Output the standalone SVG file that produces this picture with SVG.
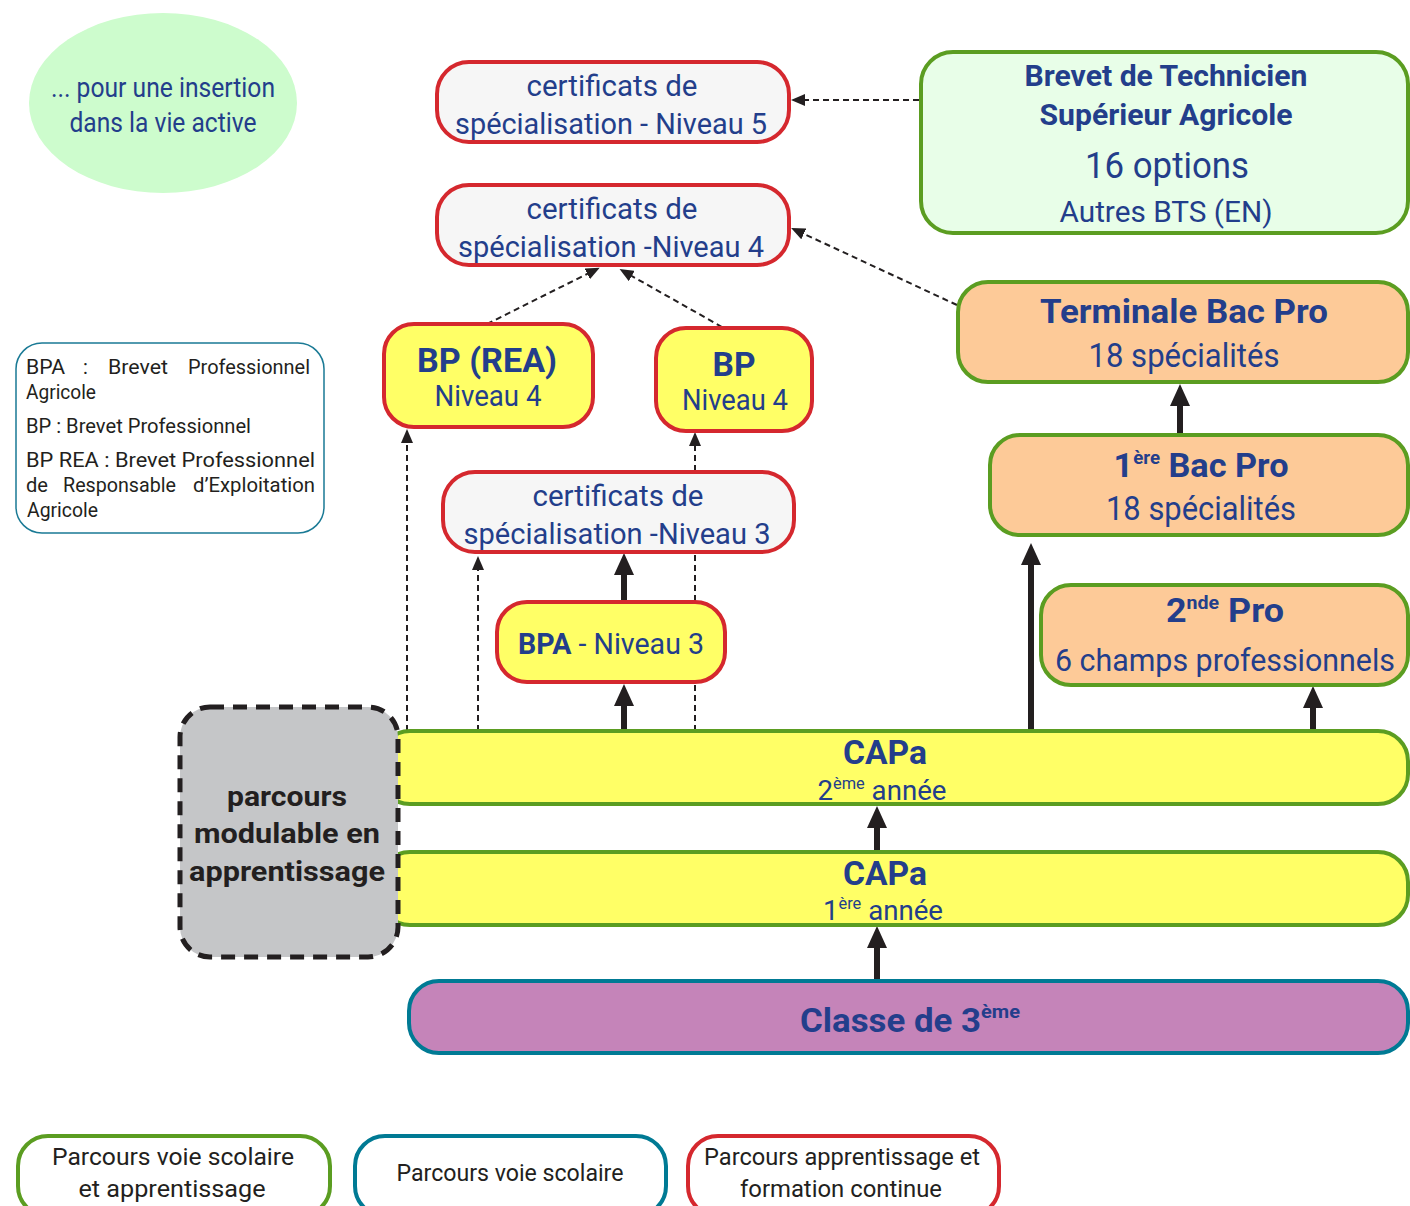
<svg xmlns="http://www.w3.org/2000/svg" width="1410" height="1206" viewBox="0 0 1410 1206">
<defs>
<style>
.t{font-family:Roboto,"Noto Sans",sans-serif;fill:#233e8b;text-anchor:middle}
.b{font-weight:bold}
.k{font-family:Roboto,"Noto Sans",sans-serif;fill:#231f20}
.red{stroke:#d5282e;stroke-width:4}
.grn{stroke:#5b9d21;stroke-width:4}
.teal{stroke:#007a94;stroke-width:4}
.thick{stroke:#231f20;stroke-width:6;fill:none}
.dash{stroke:#231f20;stroke-width:2;stroke-dasharray:6 4;fill:none}
</style>
<marker id="ah" viewBox="0 0 22 20" refX="4" refY="10" markerWidth="22" markerHeight="20" orient="auto" markerUnits="userSpaceOnUse"><path d="M0,0 L22,10 L0,20 Z" fill="#231f20"/></marker>
<marker id="ad" viewBox="0 0 14 12" refX="2" refY="6" markerWidth="14" markerHeight="12" orient="auto" markerUnits="userSpaceOnUse"><path d="M0,0 L14,6 L0,12 Z" fill="#231f20"/></marker>
</defs>
<rect width="1410" height="1206" fill="#ffffff"/>

<g id="connectors">
<line class="dash" x1="919" y1="100" x2="803" y2="100" marker-end="url(#ad)"/>
<line class="dash" x1="957" y1="305" x2="802" y2="233" marker-end="url(#ad)"/>
<line class="dash" x1="487" y1="324" x2="589" y2="273" marker-end="url(#ad)"/>
<line class="dash" x1="722" y1="327" x2="630" y2="275" marker-end="url(#ad)"/>
<line class="dash" x1="407" y1="731" x2="407" y2="441" marker-end="url(#ad)"/>
<line class="dash" x1="478" y1="731" x2="478" y2="568" marker-end="url(#ad)"/>
<line class="dash" x1="695" y1="731" x2="695" y2="444" marker-end="url(#ad)"/>
<line class="thick" x1="877" y1="981" x2="877" y2="944" marker-end="url(#ah)"/>
<line class="thick" x1="877" y1="852" x2="877" y2="824" marker-end="url(#ah)"/>
<line class="thick" x1="1313" y1="731" x2="1313" y2="704" marker-end="url(#ah)"/>
<line class="thick" x1="1031" y1="731" x2="1031" y2="561" marker-end="url(#ah)"/>
<line class="thick" x1="624" y1="731" x2="624" y2="702" marker-end="url(#ah)"/>
<line class="thick" x1="624" y1="602" x2="624" y2="571" marker-end="url(#ah)"/>
<line class="thick" x1="1180" y1="435" x2="1180" y2="402" marker-end="url(#ah)"/>
</g>

<g id="insertion">
<ellipse cx="163" cy="103" rx="134" ry="90" fill="#cdfccd"/>
<text class="t" x="163" y="97" font-size="27" textLength="224" lengthAdjust="spacingAndGlyphs">... pour une insertion</text>
<text class="t" x="163" y="132" font-size="27" textLength="187" lengthAdjust="spacingAndGlyphs">dans la vie active</text>
</g>

<g id="cert5">
<rect class="red" x="437" y="62" width="352" height="80" rx="32" fill="#f6f6f6"/>
<text class="t" x="612" y="96" font-size="29" textLength="171" lengthAdjust="spacingAndGlyphs">certificats de</text>
<text class="t" x="611" y="134" font-size="29" textLength="312" lengthAdjust="spacingAndGlyphs">spécialisation - Niveau 5</text>
</g>

<g id="cert4">
<rect class="red" x="437" y="185" width="352" height="80" rx="32" fill="#f6f6f6"/>
<text class="t" x="612" y="219" font-size="29" textLength="171" lengthAdjust="spacingAndGlyphs">certificats de</text>
<text class="t" x="611" y="257" font-size="29" textLength="306" lengthAdjust="spacingAndGlyphs">spécialisation -Niveau 4</text>
</g>

<g id="btsa">
<rect class="grn" x="921" y="52" width="487" height="181" rx="32" fill="#e8fee8"/>
<text class="t b" x="1166" y="86" font-size="29" textLength="283" lengthAdjust="spacingAndGlyphs">Brevet de Technicien</text>
<text class="t b" x="1166" y="125" font-size="29" textLength="253" lengthAdjust="spacingAndGlyphs">Supérieur Agricole</text>
<text class="t" x="1167" y="178" font-size="36" textLength="164" lengthAdjust="spacingAndGlyphs">16 options</text>
<text class="t" x="1166" y="222" font-size="29" textLength="213" lengthAdjust="spacingAndGlyphs">Autres BTS (EN)</text>
</g>

<g id="terminale">
<rect class="grn" x="958" y="282" width="450" height="100" rx="30" fill="#fdca98"/>
<text class="t b" x="1184" y="323" font-size="33" textLength="288" lengthAdjust="spacingAndGlyphs">Terminale Bac Pro</text>
<text class="t" x="1184" y="367" font-size="34" textLength="191" lengthAdjust="spacingAndGlyphs">18 spécialités</text>
</g>

<g id="premiere">
<rect class="grn" x="990" y="435" width="418" height="100" rx="30" fill="#fdca98"/>
<text class="t b" x="1201" y="477" font-size="33" textLength="175" lengthAdjust="spacingAndGlyphs">1<tspan font-size="18" dy="-13">ère</tspan><tspan dy="13"> Bac Pro</tspan></text>
<text class="t" x="1201" y="520" font-size="34" textLength="190" lengthAdjust="spacingAndGlyphs">18 spécialités</text>
</g>

<g id="seconde">
<rect class="grn" x="1041" y="585" width="367" height="100" rx="30" fill="#fdca98"/>
<text class="t b" x="1225" y="622" font-size="33" textLength="118" lengthAdjust="spacingAndGlyphs">2<tspan font-size="18" dy="-13">nde</tspan><tspan dy="13"> Pro</tspan></text>
<text class="t" x="1225" y="671" font-size="31" textLength="340" lengthAdjust="spacingAndGlyphs">6 champs professionnels</text>
</g>

<g id="bprea">
<rect class="red" x="384" y="324" width="209" height="103" rx="30" fill="#ffff66"/>
<text class="t b" x="487" y="372" font-size="33" textLength="140" lengthAdjust="spacingAndGlyphs">BP (REA)</text>
<text class="t" x="488" y="406" font-size="29" textLength="107" lengthAdjust="spacingAndGlyphs">Niveau 4</text>
</g>

<g id="bp">
<rect class="red" x="656" y="328" width="156" height="103" rx="30" fill="#ffff66"/>
<text class="t b" x="734" y="376" font-size="33" textLength="43" lengthAdjust="spacingAndGlyphs">BP</text>
<text class="t" x="735" y="410" font-size="29" textLength="106" lengthAdjust="spacingAndGlyphs">Niveau 4</text>
</g>

<g id="cert3">
<rect class="red" x="443" y="472" width="351" height="80" rx="32" fill="#f6f6f6"/>
<text class="t" x="618" y="506" font-size="29" textLength="171" lengthAdjust="spacingAndGlyphs">certificats de</text>
<text class="t" x="617" y="544" font-size="29" textLength="307" lengthAdjust="spacingAndGlyphs">spécialisation -Niveau 3</text>
</g>

<g id="bpa">
<rect class="red" x="497" y="602" width="228" height="80" rx="30" fill="#ffff66"/>
<text class="t" x="611" y="654" font-size="29" textLength="186" lengthAdjust="spacingAndGlyphs"><tspan class="b">BPA</tspan> - Niveau 3</text>
</g>

<g id="capa2">
<rect class="grn" x="380" y="731" width="1028" height="73" rx="30" fill="#ffff66"/>
<text class="t b" x="885" y="764" font-size="33" textLength="84" lengthAdjust="spacingAndGlyphs">CAPa</text>
<text class="t" x="882" y="800" font-size="27" textLength="129" lengthAdjust="spacingAndGlyphs">2<tspan font-size="16" dy="-11">ème</tspan><tspan dy="11"> année</tspan></text>
</g>

<g id="capa1">
<rect class="grn" x="380" y="852" width="1028" height="73" rx="30" fill="#ffff66"/>
<text class="t b" x="885" y="885" font-size="33" textLength="84" lengthAdjust="spacingAndGlyphs">CAPa</text>
<text class="t" x="883" y="920" font-size="27" textLength="120" lengthAdjust="spacingAndGlyphs">1<tspan font-size="16" dy="-11">ère</tspan><tspan dy="11"> année</tspan></text>
</g>

<g id="classe3">
<rect class="teal" x="409" y="981" width="999" height="72" rx="30" fill="#c584b9"/>
<text class="t b" x="910" y="1032" font-size="33" textLength="220" lengthAdjust="spacingAndGlyphs">Classe de 3<tspan font-size="19" dy="-14">ème</tspan></text>
</g>

<g id="parcours">
<rect x="180" y="707" width="218" height="250" rx="30" fill="#c5c6c8" stroke="#231f20" stroke-width="5" stroke-dasharray="14 9"/>
<text class="t b" x="287" y="806" font-size="28" style="fill:#231f20" textLength="120" lengthAdjust="spacingAndGlyphs">parcours</text>
<text class="t b" x="287" y="843" font-size="28" style="fill:#231f20" textLength="186" lengthAdjust="spacingAndGlyphs">modulable en</text>
<text class="t b" x="287" y="881" font-size="28" style="fill:#231f20" textLength="196" lengthAdjust="spacingAndGlyphs">apprentissage</text>
</g>

<g id="abbrev">
<rect x="16" y="343" width="308" height="190" rx="26" fill="#ffffff" stroke="#1a7a95" stroke-width="1.5"/>
<text class="k" x="26" y="374" font-size="20" textLength="39" lengthAdjust="spacingAndGlyphs">BPA</text>
<text class="k" x="83" y="374" font-size="20">:</text>
<text class="k" x="108" y="374" font-size="20" textLength="60" lengthAdjust="spacingAndGlyphs">Brevet</text>
<text class="k" x="188" y="374" font-size="20" textLength="122" lengthAdjust="spacingAndGlyphs">Professionnel</text>
<text class="k" x="26" y="399" font-size="20" textLength="70" lengthAdjust="spacingAndGlyphs">Agricole</text>
<text class="k" x="26" y="433" font-size="20" textLength="225" lengthAdjust="spacingAndGlyphs">BP : Brevet Professionnel</text>
<text class="k" x="26" y="467" font-size="20" textLength="289" lengthAdjust="spacingAndGlyphs">BP REA : Brevet Professionnel</text>
<text class="k" x="26" y="492" font-size="20" textLength="22" lengthAdjust="spacingAndGlyphs">de</text>
<text class="k" x="63" y="492" font-size="20" textLength="113" lengthAdjust="spacingAndGlyphs">Responsable</text>
<text class="k" x="193" y="492" font-size="20" textLength="122" lengthAdjust="spacingAndGlyphs">d’Exploitation</text>
<text class="k" x="27" y="517" font-size="20" textLength="71" lengthAdjust="spacingAndGlyphs">Agricole</text>
</g>

<g id="leg-green">
<rect class="grn" x="18" y="1136" width="312" height="80" rx="30" fill="#ffffff"/>
<text class="k" x="173" y="1165" font-size="24" text-anchor="middle" textLength="242" lengthAdjust="spacingAndGlyphs">Parcours voie scolaire</text>
<text class="k" x="172" y="1197" font-size="24" text-anchor="middle" textLength="187" lengthAdjust="spacingAndGlyphs">et apprentissage</text>
</g>
<g id="leg-teal">
<rect class="teal" x="355" y="1136" width="311" height="80" rx="30" fill="#ffffff"/>
<text class="k" x="510" y="1181" font-size="24" text-anchor="middle" textLength="227" lengthAdjust="spacingAndGlyphs">Parcours voie scolaire</text>
</g>
<g id="leg-red">
<rect class="red" x="688" y="1136" width="311" height="80" rx="30" fill="#ffffff"/>
<text class="k" x="842" y="1165" font-size="24" text-anchor="middle" textLength="276" lengthAdjust="spacingAndGlyphs">Parcours apprentissage et</text>
<text class="k" x="841" y="1197" font-size="24" text-anchor="middle" textLength="202" lengthAdjust="spacingAndGlyphs">formation continue</text>
</g>
</svg>
